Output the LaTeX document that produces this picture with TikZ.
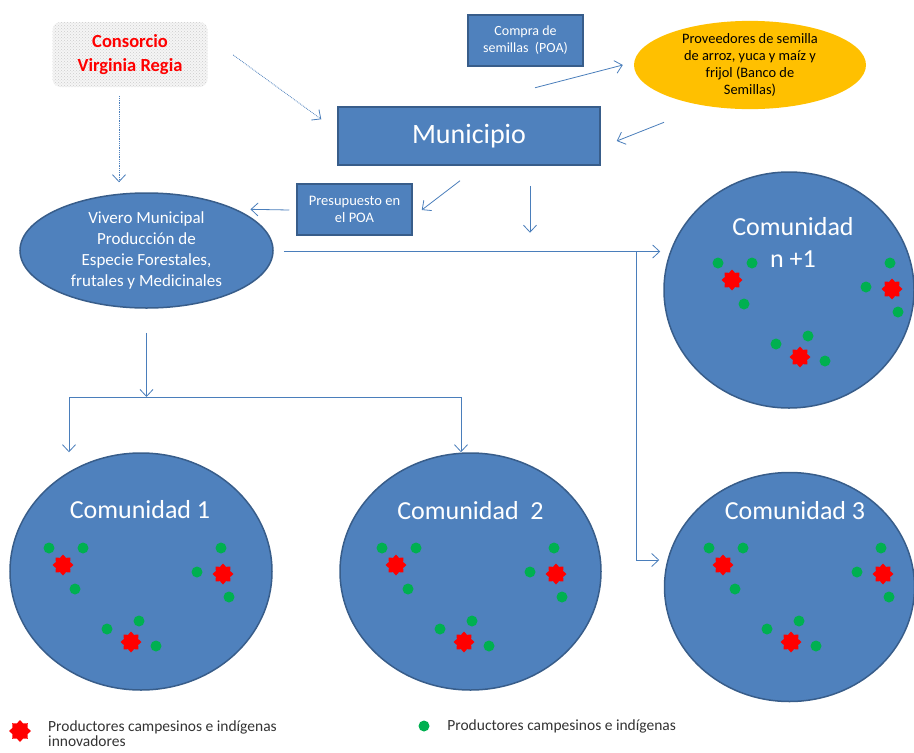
\documentclass[tikz,border=0pt]{standalone}
\usepackage{fontspec}
\setmainfont{Carlito}
\usetikzlibrary{positioning}
\usetikzlibrary{shapes.geometric, arrows.meta, patterns}
\definecolor{azul}{RGB}{79,129,189}
\definecolor{borde}{RGB}{56,93,138}
\definecolor{linea}{RGB}{74,126,187}
\definecolor{amarillo}{RGB}{255,192,0}
\definecolor{verdep}{RGB}{0,176,80}

\tikzset{
  caja/.style={draw=borde, fill=azul, rectangle, line width=1.5pt, text=white, inner sep=0pt, align=center},
  comunidad/.style={draw=borde, fill=azul, ellipse, line width=1.5pt, inner sep=0pt, text=white, align=center},
  titulo/.style={text=white, align=center, inner sep=0pt, font=\fontsize{26}{32}\selectfont},
  flecha/.style={draw=linea, line width=0.8pt, -{Straight Barb[length=7pt,width=13pt]}},
  verde/.style={circle, fill=verdep, inner sep=0pt, minimum size=11pt},
  estrella/.style={star, star points=8, star point ratio=1.35, fill=red, inner sep=0pt, minimum size=21pt},
  leyenda/.style={text=black!80, inner sep=0pt, align=left, font=\fontsize{15.5}{15}\selectfont},
  productores/.pic={
    % grupo izquierdo
    \node (-g1) [verde] at (-90,-24) {};
    \node (-g2) [verde] at (-56,-24) {};
    \node (-r1) [estrella] at (-76,-7) {};
    \node (-g3) [verde] at (-64,17) {};
    % grupo derecho
    \node (-g4) [verde] at (82,-24) {};
    \node (-g5) [verde] at (58,0) {};
    \node (-r2) [estrella] at (84,2) {};
    \node (-g6) [verde] at (90,25) {};
    % grupo de abajo
    \node (-g7) [verde] at (0,49) {};
    \node (-g8) [verde] at (-32,57) {};
    \node (-r3) [estrella] at (-8,70) {};
    \node (-g9) [verde] at (17,74) {};
  }
}

\begin{document}
\begin{tikzpicture}[x=1pt, y=-1pt]

    \useasboundingbox (0,0) rectangle (914,753);
    \clip (0,0) rectangle (914,753);

    % Consorcio
    \node (cons) [rectangle, rounded corners=8pt, minimum width=155pt, minimum height=65pt, fill=gray!8, postaction={pattern=crosshatch dots, pattern color=gray!40}, text=red, font=\bfseries\fontsize{18.5}{23.5}\selectfont, align=center] at (130,54.5) {Consorcio\\Virginia Regia};

    % Municipio
    \node (mun) [caja, minimum width=262pt, minimum height=58pt, font=\fontsize{28}{32}\selectfont] at (469,136) {Municipio};
    \node (compra) [caja, minimum width=115pt, minimum height=51pt, font=\fontsize{14}{17}\selectfont] at (525.5,40.5) {Compra de\\semillas\ \ (POA)};
    \node (pres) [caja, minimum width=115pt, minimum height=51pt, font=\fontsize{14.5}{17}\selectfont] at (354.5,209.5) {Presupuesto en\\el POA};

    % Proveedores
    \node (prov) [ellipse, fill=amarillo, inner sep=0pt, minimum width=232pt, minimum height=86pt, align=center, font=\fontsize{14.4}{16.8}\selectfont] at (750,65) {Proveedores de semilla\\de arroz, yuca y maíz y\\frijol (Banco de\\Semillas)};

    % Vivero
    \node (viv) [comunidad, minimum width=253pt, minimum height=115pt, font=\fontsize{17}{21}\selectfont] at (146.5,250.5) {Vivero Municipal\\Producción de\\Especie Forestales,\\frutales y Medicinales};

    % Comunidades
    \node (cn1) [comunidad, minimum width=250pt, minimum height=236pt] at (789,290) {};
    \node (c1) [comunidad, minimum width=262pt, minimum height=237pt] at (141,571.5) {};
    \node (c2) [comunidad, minimum width=261pt, minimum height=237pt] at (470.5,571.5) {};
    \node (c3) [comunidad, minimum width=250pt, minimum height=229pt] at (789.5,587) {};

    \node (tcn1) [titulo] at ([shift={(4,-48)}]cn1.center) {Comunidad\\n +1};
    \node (tc1) [titulo] at ([shift={(-1,-61.5)}]c1.center) {Comunidad 1};
    \node (tc2) [titulo] at ([shift={(0,-60.5)}]c2.center) {Comunidad\ \ 2};
    \node (tc3) [titulo] at ([shift={(5.5,-76)}]c3.center) {Comunidad 3};

    \pic (prodn) at (808,287) {productores};
    \pic (prod1) at (139,572) {productores};
    \pic (prod2) at (472,572) {productores};
    \pic (prod3) at (799,572) {productores};

    % Leyenda
    \node (leyr) [estrella, minimum size=22pt] at (20,731) {};
    \node (leyrt) [leyenda, anchor=north west] at (48,721) {Productores campesinos e indígenas\\innovadores};
    \node (leyv) [verde] at (424,726) {};
    \node (leyvt) [leyenda, right=17.5pt of leyv] {Productores campesinos e indígenas};

    % Flechas
    \draw[flecha, densely dotted] ([shift={(25.5,0.5)}]cons.east) -- ([shift={(-16,13)}]mun.north west);
    \draw[flecha, densely dotted] ([shift={(-11,9)}]cons.south) -- ([shift={(-27.5,-10)}]viv.north);
    \draw[flecha] ([shift={(9.5,21)}]compra.south) -- ([shift={(-11,0)}]prov.west);
    \draw[flecha] ([shift={(-86,13)}]prov.south) -- ([shift={(16,5)}]mun.east);
    \draw[flecha] ([shift={(-9,15)}]mun.south) -- ([shift={(9,0.5)}]pres.east);
    \draw[flecha] ([shift={(-7,0.5)}]pres.west) -- ([shift={(14,0)}]viv.north east);
    \coordinate (bajada) at ([shift={(61,67)}]mun.south);
    \draw[flecha] ([shift={(61,20)}]mun.south) -- (bajada);

    % Vivero hacia las comunidades
    \coordinate (rama) at (636,251.5);
    \draw[flecha] ([shift={(10,1)}]viv.east) -- ([shift={(-3,-38.5)}]cn1.west);
    \draw[flecha] (rama) |- ([shift={(-4.5,-27)}]c3.west);
    \coordinate (reparto) at (146.5,397);
    \draw[flecha] ([shift={(0,24)}]viv.south) -- (reparto);
    \draw[flecha] (reparto) -| ([xshift=-72pt]c1.north);
    \draw[flecha] (reparto) -| ([xshift=-9.5pt]c2.north);

\end{tikzpicture}
\end{document}
